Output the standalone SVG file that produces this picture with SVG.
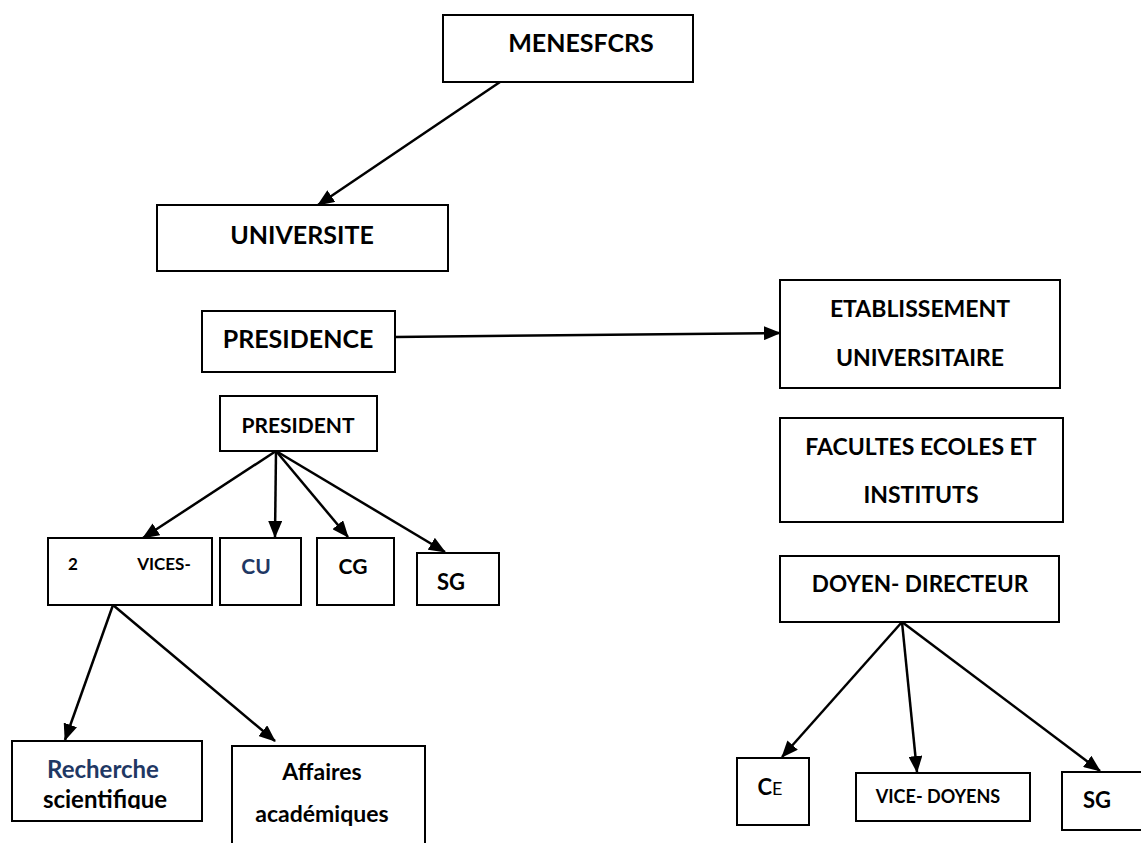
<svg xmlns="http://www.w3.org/2000/svg" width="1141" height="843" viewBox="0 0 1141 843">
  <style>
    .box { fill: #ffffff; stroke: #000000; stroke-width: 2; }
    .lbl { font-family: Lato, "Liberation Sans", sans-serif; font-weight: 700; fill: #000000; text-anchor: middle; }
    .navy { fill: #1f3864; }
    .link { fill: none; stroke: #000000; stroke-width: 2.5; marker-end: url(#arrow); }
  </style>
  <defs>
    <marker id="arrow" markerUnits="userSpaceOnUse" markerWidth="18" markerHeight="14" refX="16" refY="7" orient="auto">
      <path d="M0,0 L17,7 L0,14 Z" fill="#000000"/>
    </marker>
    <clipPath id="clipRecherche">
      <rect x="12" y="741" width="190" height="68"/>
    </clipPath>
  </defs>

  <rect width="1141" height="843" fill="#ffffff"/>

  <!-- connectors -->
  <g id="connectors">
    <line class="link" x1="500" y1="82" x2="318" y2="205"/>
    <line class="link" x1="395" y1="337" x2="780" y2="333"/>
    <line class="link" x1="276" y1="451" x2="143" y2="538"/>
    <line class="link" x1="276" y1="451" x2="275" y2="537"/>
    <line class="link" x1="276" y1="451" x2="348" y2="537"/>
    <line class="link" x1="276" y1="451" x2="445" y2="552"/>
    <line class="link" x1="113" y1="605" x2="65" y2="740"/>
    <line class="link" x1="113" y1="605" x2="275" y2="741"/>
    <line class="link" x1="902" y1="622" x2="782" y2="757"/>
    <line class="link" x1="902" y1="622" x2="917" y2="772"/>
    <line class="link" x1="902" y1="622" x2="1100" y2="771"/>
  </g>

  <g id="menesfcrs">
    <rect class="box" x="443" y="15" width="250" height="67"/>
    <text class="lbl" x="581" y="52" font-size="25">MENESFCRS</text>
  </g>

  <g id="universite">
    <rect class="box" x="157" y="205" width="291" height="66"/>
    <text class="lbl" x="302" y="244" font-size="25">UNIVERSITE</text>
  </g>

  <g id="presidence">
    <rect class="box" x="202" y="311" width="193" height="61"/>
    <text class="lbl" x="298" y="348" font-size="25">PRESIDENCE</text>
  </g>

  <g id="president">
    <rect class="box" x="220" y="396" width="157" height="55"/>
    <text class="lbl" x="298" y="433" font-size="21">PRESIDENT</text>
  </g>

  <g id="vices">
    <rect class="box" x="48" y="538" width="164" height="67"/>
    <text class="lbl" x="73" y="570" font-size="17">2</text>
    <text class="lbl" x="164" y="570" font-size="17">VICES-</text>
  </g>

  <g id="cu">
    <rect class="box" x="220" y="538" width="81" height="67"/>
    <text class="lbl navy" x="256" y="574" font-size="21">CU</text>
  </g>

  <g id="cg">
    <rect class="box" x="317" y="538" width="77" height="67"/>
    <text class="lbl" x="353" y="574" font-size="21">CG</text>
  </g>

  <g id="sg-presidence">
    <rect class="box" x="417" y="553" width="82" height="52"/>
    <text class="lbl" x="451" y="590" font-size="22">SG</text>
  </g>

  <g id="recherche">
    <rect class="box" x="12" y="741" width="190" height="80"/>
    <text class="lbl navy" x="103" y="778" font-size="24">Recherche</text>
    <text class="lbl" x="105" y="808" font-size="24" clip-path="url(#clipRecherche)">scientifique</text>
  </g>

  <g id="affaires">
    <rect class="box" x="232" y="746" width="193" height="110"/>
    <text class="lbl" x="322" y="780" font-size="23">Affaires</text>
    <text class="lbl" x="322" y="822" font-size="23">académiques</text>
  </g>

  <g id="etablissement">
    <rect class="box" x="780" y="280" width="280" height="108"/>
    <text class="lbl" x="920" y="317" font-size="23">ETABLISSEMENT</text>
    <text class="lbl" x="920" y="366" font-size="23">UNIVERSITAIRE</text>
  </g>

  <g id="facultes">
    <rect class="box" x="780" y="418" width="283" height="104"/>
    <text class="lbl" x="921" y="455" font-size="23">FACULTES ECOLES ET</text>
    <text class="lbl" x="921" y="503" font-size="23">INSTITUTS</text>
  </g>

  <g id="doyen">
    <rect class="box" x="780" y="556" width="279" height="66"/>
    <text class="lbl" x="920" y="592" font-size="22.5">DOYEN- DIRECTEUR</text>
  </g>

  <g id="ce">
    <rect class="box" x="737" y="758" width="72" height="67"/>
    <text x="770" y="795" font-family="Lato, 'Liberation Sans', sans-serif" text-anchor="middle" fill="#000000"><tspan font-weight="700" font-size="22">C</tspan><tspan font-weight="400" font-size="18">E</tspan></text>
  </g>

  <g id="vice-doyens">
    <rect class="box" x="856" y="773" width="174" height="48"/>
    <text class="lbl" x="938" y="803" font-size="18">VICE- DOYENS</text>
  </g>

  <g id="sg-doyen">
    <rect class="box" x="1062" y="772" width="100" height="58"/>
    <text class="lbl" x="1097" y="808" font-size="22">SG</text>
  </g>
</svg>
